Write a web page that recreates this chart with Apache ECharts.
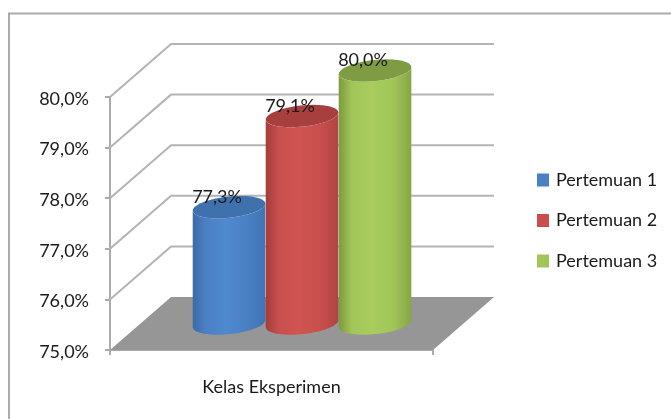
<!DOCTYPE html>
<html><head><meta charset="utf-8">
<style>html,body{margin:0;padding:0;background:#fff}#c{width:671px;height:419px}</style>
<script src="https://cdn.jsdelivr.net/npm/echarts@6/dist/echarts.min.js"></script>
</head><body><div id="c"></div>
<script>
const categories = ['Kelas Eksperimen'];
const seriesNames = ['Pertemuan 1', 'Pertemuan 2', 'Pertemuan 3'];
const pertemuan1 = [77.3];
const pertemuan2 = [79.1];
const pertemuan3 = [80.0];
const wallTicks = [75, 76, 77, 78, 79, 80];

const FONT = 'Lato';
const fmt = v => v.toFixed(1).replace('.', ',') + '%';
const palette = [
  {main:'#4A80C4', edge:'#3A6BA5', hi:'#5089CE', right:'#3F74B3', top:'#3F72AD'},
  {main:'#C94F4D', edge:'#A33C3A', hi:'#CF5452', right:'#B04341', top:'#A63F3D'},
  {main:'#A2C558', edge:'#7C9A3E', hi:'#A9CC5D', right:'#86A545', top:'#7F9C43'}
];
// depth of the pseudo 3D box relative to the plot size
function depth(api){
  const band = api.size([1,0])[0], unit = api.size([0,1])[1];
  return {band, dx: band*0.189, dy: unit*1.047};
}
function wallItem(params, api){
  const v = api.value(1), p = api.coord([0, v]);
  const {band, dx, dy} = depth(api);
  const l = p[0]-band/2, r = p[0]+band/2, y = p[1];
  if (v === wallTicks[0]) {
    return {type:'polygon', shape:{points:[[l,y],[r,y],[r+dx,y-dy],[l+dx,y-dy]]},
      style:{fill:'#969696'}};
  }
  return {type:'polyline', shape:{points:[[l,y],[l+dx,y-dy],[r+dx,y-dy]]},
    style:{fill:'none', stroke:'#b4b4b4', lineWidth:2}};
}
function ellipsePts(cx, cy, rx, ry, from, to){
  const a = -6*Math.PI/180, out = [], n = 36;
  for (let i=0;i<=n;i++){
    const t = (from+(to-from)*i/n)*Math.PI/180;
    const ex = rx*Math.cos(t), ey = ry*Math.sin(t);
    out.push([cx+ex*Math.cos(a)-ey*Math.sin(a), cy+ex*Math.sin(a)+ey*Math.cos(a)]);
  }
  return out;
}
function cylinderItem(idx){
  return function(params, api){
    const val = api.value(1);
    const top = api.coord([0, val]), base = api.coord([0, 75]);
    const {band, dx, dy} = depth(api);
    const cx = top[0] + dx/2 + (idx-1)*band*0.226;
    const rx = band*0.113, ry = rx*0.29;
    const ty = top[1]-dy/2, by = base[1]-dy/2;
    const c = palette[idx];
    const body = ellipsePts(cx,by,rx,ry,180,0).concat(ellipsePts(cx,ty,rx,ry,0,180));
    return {type:'group', children:[
      {type:'polygon', shape:{points:body}, style:{fill:{type:'linear',x:0,y:0,x2:1,y2:0,colorStops:[
        {offset:0,color:c.edge},{offset:0.18,color:c.main},{offset:0.45,color:c.hi},
        {offset:0.75,color:c.main},{offset:1,color:c.right}]}}},
      {type:'polygon', shape:{points:ellipsePts(cx,ty,rx,ry,0,360)}, style:{fill:c.top}},
      {type:'text', x:cx-band*0.037, y:ty-10, style:{text:fmt(val), fill:'#1a1a1a',
        font:'18px '+FONT, align:'center', verticalAlign:'middle'}, z2:10}
    ]};
  };
}
function cyl(idx, values){
  return {name:seriesNames[idx], type:'custom', coordinateSystem:'cartesian2d',
    itemStyle:{color:palette[idx].main}, renderItem:cylinderItem(idx), z:3+idx,
    encode:{x:0,y:1}, data:values.map((v,i)=>[categories[i],v]), clip:false};
}
const chart = echarts.init(document.getElementById('c'), null, {renderer:'canvas'});
chart.setOption({
  animation:false,
  backgroundColor:'#fff',
  graphic:[{type:'polyline', silent:true, shape:{points:[[9,419],[9,13.5],[671,13.5]]},
    style:{fill:'none', stroke:'#ababab', lineWidth:2}}],
  grid:{left:110, right:238, top:97, bottom:69},
  legend:{orient:'vertical', left:532, top:166, itemWidth:12, itemHeight:13, itemGap:22.5, icon:'rect',
    data:seriesNames, selectedMode:false,
    textStyle:{fontFamily:FONT, fontSize:18, color:'#1a1a1a', padding:[0,0,0,2]}},
  xAxis:{type:'category', data:categories,
    axisLine:{lineStyle:{color:'#ababab',width:2}},
    axisTick:{show:true, length:5, lineStyle:{color:'#ababab',width:2}},
    axisLabel:{fontFamily:FONT, fontSize:18, color:'#1a1a1a', margin:28}},
  yAxis:{type:'value', min:75, max:80, interval:1,
    axisLine:{show:true, lineStyle:{color:'#ababab',width:2}},
    axisTick:{show:true, length:5, lineStyle:{color:'#ababab',width:2}},
    splitLine:{show:false},
    axisLabel:{fontFamily:FONT, fontSize:18, color:'#1a1a1a', margin:21, verticalAlign:'top', padding:[-7,0,0,0], formatter:fmt}},
  series:[
    {name:'walls', type:'custom', renderItem:wallItem, z:1, clip:false, silent:true,
      encode:{x:0,y:1}, data:wallTicks.map(v=>[categories[0],v])},
    cyl(0,pertemuan1), cyl(1,pertemuan2), cyl(2,pertemuan3)
  ]
});
</script></body></html>
